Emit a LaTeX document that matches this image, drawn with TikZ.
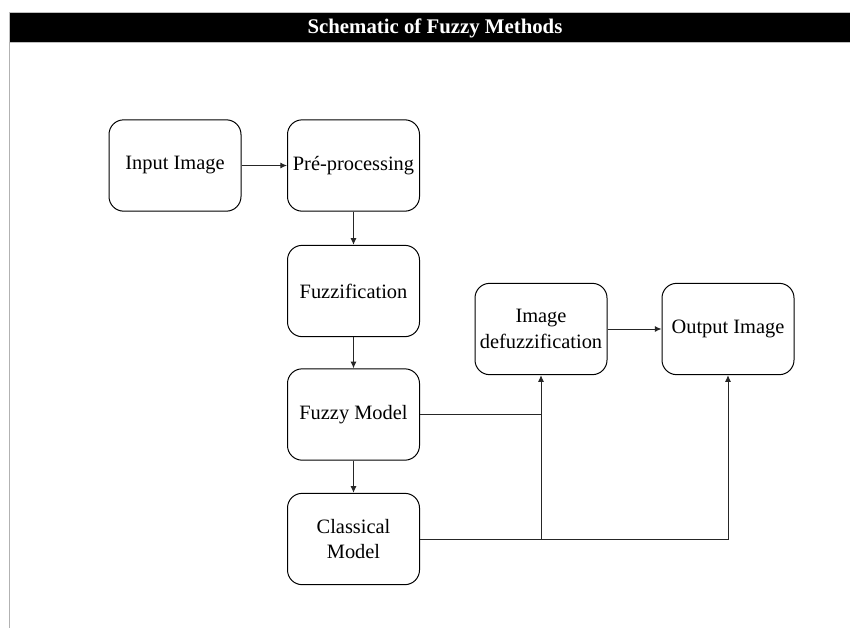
\documentclass[tikz,border=0pt]{standalone}
\usepackage{fontspec}
\setmainfont{Liberation Serif}
\usetikzlibrary{arrows.meta}
\begin{document}
\begin{tikzpicture}[x=0.75pt,y=-0.75pt,
  box/.style={draw=black, line width=0.75pt, rounded corners=11pt, minimum width=99pt, minimum height=68.5pt, align=center, font=\fontsize{15.3}{18}\selectfont, inner sep=0pt},
  arr/.style={draw=black!85, line width=0.75pt, -{Latex[length=5pt,width=4.5pt]}},
  ln/.style={draw=black!85, line width=0.75pt}]
\useasboundingbox (0,0) rectangle (850,628);
\fill[white] (0,0) rectangle (850,628);
\filldraw[fill=black, draw=black!25, line width=0.75pt] (9,12) rectangle (851,42);
\node (title) at (435,28) {\fontsize{15.6}{18}\selectfont\bfseries\color{white}Schematic of Fuzzy Methods};
\draw[black!30, line width=0.75pt] (9,42) -- (9,628);

\node[box] (in)  at (175,165.5) {Input Image};
\node[box] (pre) at (353.5,165.5) {Pré-processing};
\node[box] (fz)  at (353.5,291) {Fuzzification};
\node[box] (fm)  at (353.5,414.5) {Fuzzy Model};
\node[box] (cm)  at (353.5,539) {Classical\\[1pt]Model};
\node[box] (dz)  at (541,329) {Image\\[1pt]defuzzification};
\node[box] (out) at (728,329) {Output Image};

\draw[arr] (in) -- (pre);
\draw[arr] (pre) -- (fz);
\draw[arr] (fz) -- (fm);
\draw[arr] (fm) -- (cm);
\draw[arr] (dz) -- (out);
\coordinate (j1) at (fm.east -| dz.south);
\draw[ln] (fm.east) -- (j1);
\draw[arr] (cm.east) -| (dz.south);
\draw[arr] (cm.east) -| (out.south);
\end{tikzpicture}
\end{document}
